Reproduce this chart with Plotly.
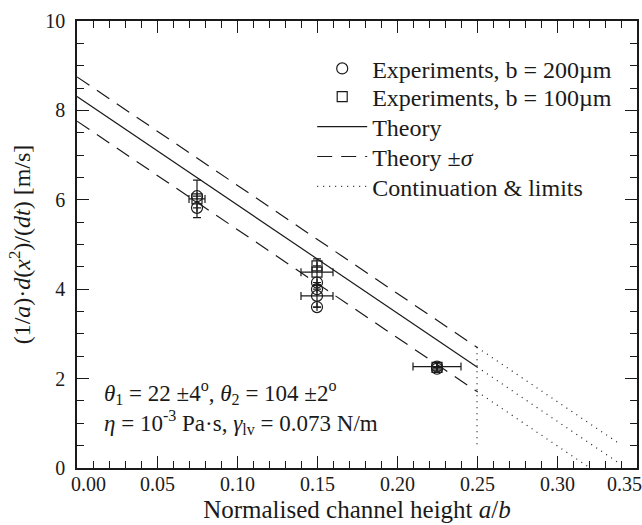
import plotly.graph_objects as go

# ---- data ----
x_theory = [0.0, 0.25]
theory = [8.31, 2.26]
theory_upper = [8.75, 2.70]
theory_lower = [7.76, 1.71]

x_cont = [0.25, 0.34]
cont_mid = [2.26, 0.08]
cont_upper = [2.70, 0.52]
cont_lower = [1.71, -0.47]

x_limit = [0.25, 0.25]
y_limit = [2.70, 0.50]

x_b200 = [0.075, 0.075, 0.15, 0.15, 0.15, 0.15, 0.225, 0.225]
y_b200 = [6.08, 5.82, 4.15, 4.00, 3.85, 3.60, 2.27, 2.22]
xerr_b200 = [0, 0, 0, 0, 0.010, 0, 0.015, 0]
yerr_b200 = [0, 0, 0, 0, 0.25, 0, 0.08, 0]

x_b100 = [0.075, 0.15, 0.15, 0.225]
y_b100 = [6.02, 4.52, 4.38, 2.25]
xerr_b100 = [0.005, 0, 0.010, 0]
yerr_b100 = [0.42, 0, 0.30, 0]

x_ticks = [0.00, 0.05, 0.10, 0.15, 0.20, 0.25, 0.30, 0.35]
x_ticklabels = ["0.00", "0.05", "0.10", "0.15", "0.20", "0.25", "0.30", "0.35"]
y_ticks = [0, 2, 4, 6, 8, 10]

FONT = "Liberation Serif, Times New Roman, serif"
INK = "#1a1a1a"

fig = go.Figure()

fig.add_trace(go.Scatter(
    x=x_b200, y=y_b200, mode="markers", name="Experiments, b = 200µm", legend="legend",
    marker=dict(symbol="circle-open", size=11, color=INK, line=dict(width=1.2, color=INK)),
    error_x=dict(type="data", array=xerr_b200, color=INK, thickness=1.2, width=4),
    error_y=dict(type="data", array=yerr_b200, color=INK, thickness=1.2, width=4),
))
fig.add_trace(go.Scatter(
    x=x_b100, y=y_b100, mode="markers", name="Experiments, b = 100µm", legend="legend2",
    marker=dict(symbol="square-open", size=10, color=INK, line=dict(width=1.2, color=INK)),
    error_x=dict(type="data", array=xerr_b100, color=INK, thickness=1.2, width=4),
    error_y=dict(type="data", array=yerr_b100, color=INK, thickness=1.2, width=4),
))
fig.add_trace(go.Scatter(
    x=x_theory, y=theory, mode="lines", name="Theory", legend="legend3",
    line=dict(color=INK, width=1.2),
))
dash = dict(color=INK, width=1.2, dash="15px,9px")
fig.add_trace(go.Scatter(
    x=x_theory, y=theory_upper, mode="lines", name="Theory ±<i>σ</i>", legend="legend4",
    legendgroup="sig", line=dash,
))
fig.add_trace(go.Scatter(
    x=x_theory, y=theory_lower, mode="lines", showlegend=False, legend="legend4",
    legendgroup="sig", line=dash,
))
dot = dict(color=INK, width=1.2, dash="1px,5px")
fig.add_trace(go.Scatter(
    x=x_cont, y=cont_upper, mode="lines", name="Continuation & limits", legend="legend5",
    legendgroup="cont", line=dot,
))
fig.add_trace(go.Scatter(x=x_cont, y=cont_mid, mode="lines", showlegend=False,
                         legend="legend5", legendgroup="cont", line=dot))
fig.add_trace(go.Scatter(x=x_cont, y=cont_lower, mode="lines", showlegend=False,
                         legend="legend5", legendgroup="cont", line=dot))
fig.add_trace(go.Scatter(x=x_limit, y=y_limit, mode="lines", showlegend=False,
                         legend="legend5", legendgroup="cont", line=dot))

axis_common = dict(
    showline=True, linewidth=1.6, linecolor=INK, mirror="allticks",
    ticks="inside", ticklen=12, tickwidth=1.2, tickcolor=INK,
    showgrid=False, zeroline=False,
)

fig.update_xaxes(
    range=[0, 0.35], tickvals=x_ticks, showticklabels=False,
    minor=dict(ticks="inside", ticklen=7, tickwidth=1.2, tickcolor=INK, dtick=0.01, tick0=0),
    title=dict(text="Normalised channel height <i>a</i>/<i>b</i>",
               font=dict(family=FONT, size=25, color=INK), standoff=32),
    **axis_common,
)
fig.update_yaxes(
    range=[0, 10], tickvals=y_ticks,
    tickfont=dict(family=FONT, size=20, color=INK), ticklabelstandoff=6,
    minor=dict(ticks="inside", ticklen=7, tickwidth=1.2, tickcolor=INK, dtick=0.5, tick0=0),
    title=dict(text="(1/<i>a</i>)·<i>d</i>(<i>x</i><sup>2</sup>)/(<i>dt</i>) [m/s]",
               font=dict(family=FONT, size=24, color=INK), standoff=8),
    **axis_common,
)

# x tick labels (edge labels nudged inwards as in the original)
for i, (v, t) in enumerate(zip(x_ticks, x_ticklabels)):
    shift = 11 if i == 0 else (-13 if i == len(x_ticks) - 1 else 0)
    fig.add_annotation(x=v, y=0, xref="x", yref="paper", text=t, showarrow=False,
                       xanchor="center", yanchor="middle", xshift=shift, yshift=-16,
                       font=dict(family=FONT, size=20, color=INK))

fig.add_annotation(x=0.045, y=0.168, xref="paper", yref="paper", xanchor="left", yanchor="middle",
                   text="<i>θ</i><sub>1</sub> = 22 ±4<sup>o</sup>, <i>θ</i><sub>2</sub> = 104 ±2<sup>o</sup>",
                   showarrow=False, font=dict(family=FONT, size=23, color=INK))
fig.add_annotation(x=0.045, y=0.102, xref="paper", yref="paper", xanchor="left", yanchor="middle",
                   text="<i>η</i> = 10<sup>-3</sup> Pa·s, <i>γ</i><sub>lv</sub> = 0.073 N/m",
                   showarrow=False, font=dict(family=FONT, size=23, color=INK))

legend_rows_y = [0.893, 0.830, 0.763, 0.696, 0.629]
legend_style = dict(x=0.42, xanchor="left", yanchor="middle",
                    bgcolor="rgba(0,0,0,0)", borderwidth=0, itemwidth=50,
                    font=dict(family=FONT, size=24, color=INK))

fig.update_layout(
    width=642, height=525,
    margin=dict(l=77, r=5, t=21, b=57, autoexpand=False),
    paper_bgcolor="white", plot_bgcolor="white",
    font=dict(family=FONT, size=20, color=INK),
    legend=dict(y=legend_rows_y[0], **legend_style),
    legend2=dict(y=legend_rows_y[1], **legend_style),
    legend3=dict(y=legend_rows_y[2], **legend_style),
    legend4=dict(y=legend_rows_y[3], **legend_style),
    legend5=dict(y=legend_rows_y[4], **legend_style),
    showlegend=True,
)

# remove the browser's default 8px page margin so the figure fills the window exactly
fig.write_html(
    "out.html",
    config={"displayModeBar": False},
    post_script="document.body.style.margin='0';document.documentElement.style.overflow='hidden';",
)
